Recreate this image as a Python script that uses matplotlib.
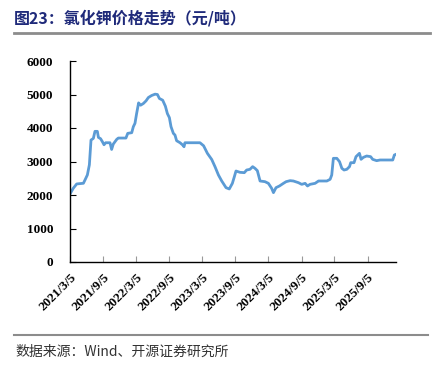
import matplotlib
matplotlib.use("Agg")
import matplotlib.pyplot as plt
import matplotlib.dates as mdates
import pandas as pd
from matplotlib.lines import Line2D

dates = [
    "2021-03-05", "2021-03-23", "2021-04-11", "2021-05-18", "2021-05-27", "2021-06-09",
    "2021-06-20", "2021-06-29", "2021-07-12", "2021-07-21", "2021-08-03", "2021-08-09",
    "2021-08-21", "2021-08-31", "2021-09-09", "2021-09-18", "2021-10-12", "2021-10-21",
    "2021-10-30", "2021-11-18", "2021-11-27", "2022-01-08", "2022-01-18", "2022-02-09",
    "2022-02-18", "2022-02-27", "2022-03-08", "2022-03-19", "2022-03-30", "2022-04-14",
    "2022-04-29", "2022-05-12", "2022-05-30", "2022-06-18", "2022-07-01", "2022-07-12",
    "2022-07-30", "2022-08-14", "2022-08-25", "2022-09-05", "2022-09-14", "2022-09-27",
    "2022-10-06", "2022-10-15", "2022-11-03", "2022-11-18", "2022-11-25", "2022-11-30",
    "2023-02-21", "2023-03-13", "2023-04-03", "2023-04-27", "2023-05-15", "2023-06-03",
    "2023-06-21", "2023-07-15", "2023-08-02", "2023-08-19", "2023-08-30", "2023-09-08",
    "2023-09-30", "2023-10-24", "2023-11-06", "2023-11-24", "2023-12-09", "2023-12-22",
    "2024-01-04", "2024-01-19", "2024-02-15", "2024-03-05", "2024-03-23", "2024-04-02",
    "2024-04-16", "2024-05-05", "2024-05-27", "2024-06-11", "2024-07-03", "2024-07-21",
    "2024-08-18", "2024-09-05", "2024-09-24", "2024-10-07", "2024-10-21", "2024-11-18",
    "2024-12-07", "2025-01-22", "2025-02-09", "2025-02-18", "2025-02-27", "2025-03-18",
    "2025-04-02", "2025-04-15", "2025-04-27", "2025-05-12", "2025-05-27", "2025-06-03",
    "2025-06-21", "2025-07-02", "2025-07-21", "2025-07-30", "2025-08-12", "2025-08-30",
    "2025-09-21", "2025-10-02", "2025-10-24", "2025-11-12", "2026-01-21", "2026-01-30",
    "2026-02-08",
]
prices = [
    2030, 2200, 2330, 2350, 2450, 2600,
    2900, 3640, 3690, 3900, 3900, 3720,
    3680, 3590, 3500, 3560, 3560, 3360,
    3520, 3660, 3700, 3700, 3840, 3860,
    4040, 4140, 4430, 4750, 4680, 4730,
    4810, 4910, 4970, 5010, 5000, 4880,
    4830, 4650, 4430, 4310, 4040, 3840,
    3790, 3620, 3560, 3490, 3440, 3560,
    3560, 3470, 3244, 3060, 2846, 2597,
    2420, 2219, 2180, 2348, 2547, 2716,
    2677, 2667, 2746, 2766, 2846, 2796,
    2726, 2418, 2398, 2348, 2199, 2070,
    2219, 2269, 2348, 2398, 2428, 2418,
    2368, 2318, 2348, 2269, 2318, 2348,
    2418, 2418, 2468, 2597, 3095, 3095,
    2995, 2796, 2746, 2766, 2846, 2965,
    2965, 3144, 3244, 3065, 3124, 3164,
    3144, 3065, 3025, 3045, 3045, 3194,
    3214,
]
tick_dates = ["2021-03-05", "2021-09-05", "2022-03-05", "2022-09-05", "2023-03-05",
              "2023-09-05", "2024-03-05", "2024-09-05", "2025-03-05", "2025-09-05"]
tick_labels = ["2021/3/5", "2021/9/5", "2022/3/5", "2022/9/5", "2023/3/5",
               "2023/9/5", "2024/3/5", "2024/9/5", "2025/3/5", "2025/9/5"]
y_ticks = [0, 1000, 2000, 3000, 4000, 5000, 6000]

title = "图23：氯化钾价格走势（元/吨）"
source = "数据来源：Wind、开源证券研究所"

x = pd.to_datetime(dates)
W, H = 443, 370
fig = plt.figure(figsize=(W / 100, H / 100), dpi=100)
ax = fig.add_axes([70 / W, 1 - 262 / H, (396 - 70) / W, (262 - 61) / H])

ax.plot(x, prices, color="#5B9BD5", linewidth=2.0, solid_joinstyle="round")
ax.set_xlim(pd.Timestamp("2021-03-05"), pd.Timestamp("2026-02-08"))
ax.set_ylim(0, 6000)
ax.set_yticks(y_ticks)
ax.set_yticklabels([str(v) for v in y_ticks], fontfamily="Liberation Serif",
                   fontweight="bold", fontsize=9.5)
ax.set_xticks(pd.to_datetime(tick_dates))
ax.set_xticklabels(tick_labels, fontfamily="Liberation Serif", fontweight="bold",
                   fontsize=9.5, rotation=45, ha="right", va="top",
                   rotation_mode="anchor")
ax.tick_params(axis="y", direction="in", length=4, width=0.8, pad=12, colors="black")
ax.tick_params(axis="x", direction="in", length=4, width=0.8, pad=7, colors="black")
ax.tick_params(axis="x", color="#999999")
for s in ["top", "right"]:
    ax.spines[s].set_visible(False)
for s in ["left", "bottom"]:
    ax.spines[s].set_linewidth(1.0)
    ax.spines[s].set_color("black")

fig.text(14 / W, 1 - 18 / H, title, fontfamily=["Noto Sans CJK SC", "DejaVu Sans"],
         fontweight="bold", fontsize=11.5, color="#1F2A7A", va="center", ha="left")
fig.add_artist(Line2D([14 / W, 430 / W], [1 - 33 / H, 1 - 33 / H],
                      color="#8C8C8C", linewidth=2.0, transform=fig.transFigure))
fig.add_artist(Line2D([14 / W, 428 / W], [1 - 335 / H, 1 - 335 / H],
                      color="#8C8C8C", linewidth=1.5, transform=fig.transFigure))
fig.text(15 / W, 1 - 352 / H, source, fontfamily=["Noto Sans CJK SC", "DejaVu Sans"],
         fontsize=10, color="#333333", va="center", ha="left")

fig.savefig("out.png", dpi=100)
